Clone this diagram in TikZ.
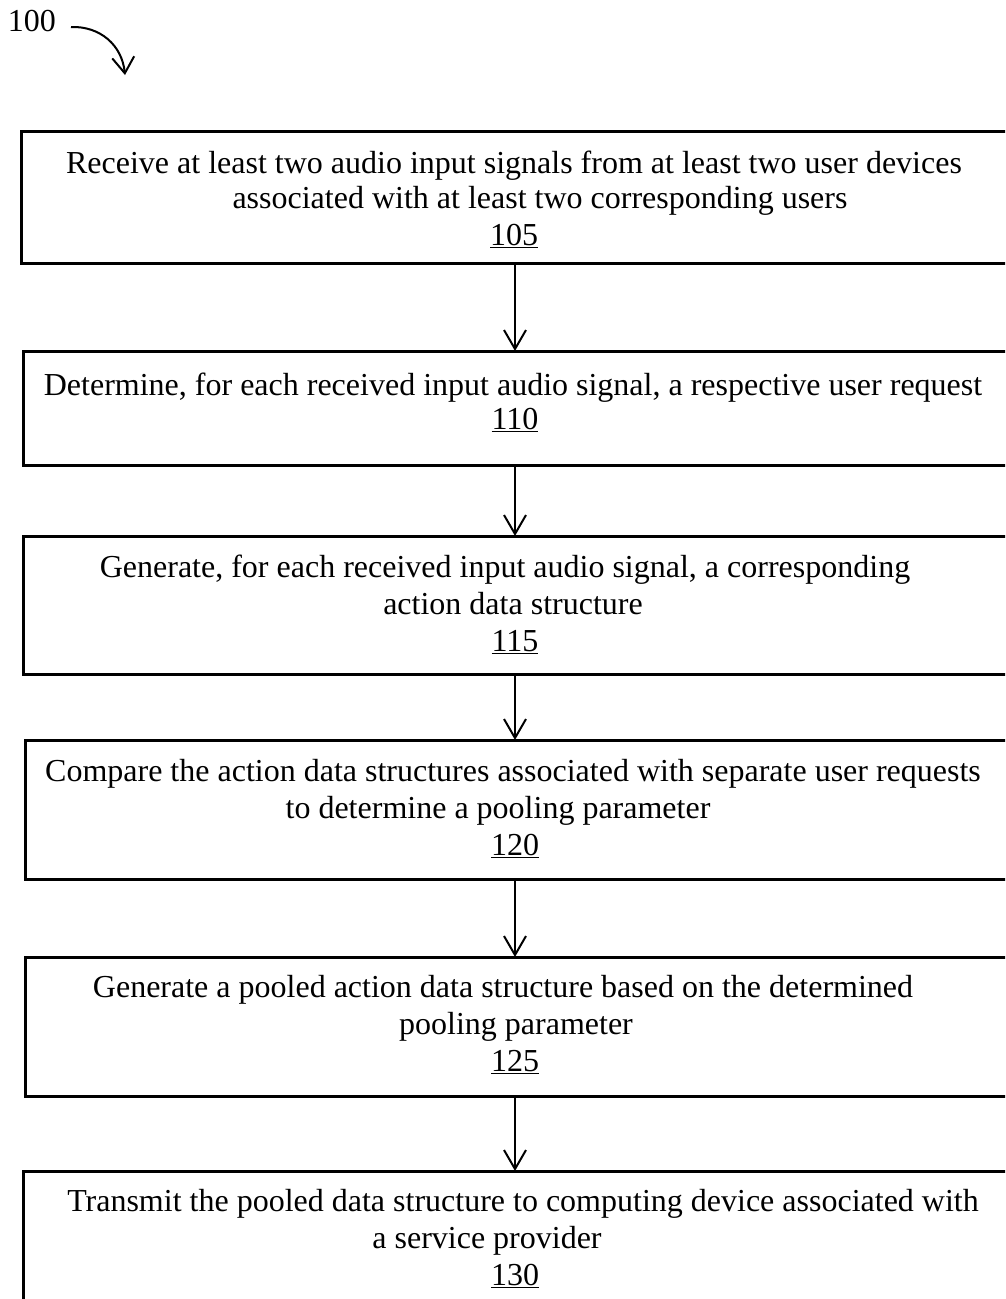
\documentclass[tikz,border=0pt]{standalone}
\usepackage{fontspec}
\setmainfont{Liberation Serif}
\usetikzlibrary{arrows.meta}
\begin{document}
\begin{tikzpicture}[x=1pt,y=-1pt,
  stepbox/.style={draw, line width=3pt},
  txt/.style={anchor=base, inner sep=0pt, font=\fontsize{32}{37}\selectfont},
  flow/.style={line width=2pt, -{Straight Barb[length=19pt,width=22pt,line width=2pt]}}]
\useasboundingbox (0,0) rectangle (1005,1299);
\clip (0,0) rectangle (1005,1299);

% figure reference label
\node[txt] (fig) at (32,31) {100};
\coordinate (figstart) at (71,27);
\coordinate (figend) at (125,75);
\draw[line width=2pt, -{Straight Barb[length=16pt,width=22pt,line width=2pt]}]
  (figstart) .. controls (100,26) and (122,45) .. (figend);

% process steps
\draw[stepbox] (21,131) rectangle (1015,263);
\node[txt] (t105a) at (514,173) {Receive at least two audio input signals from at least two user devices};
\node[txt] (t105b) at (540,208) {associated with at least two corresponding users};
\node[txt] (t105c) at (514,245) {\underline{105}};
\coordinate (b105) at (515,263);

\draw[stepbox] (23,351) rectangle (1015,465);
\node[txt] (t110a) at (513,395) {Determine, for each received input audio signal, a respective user request};
\node[txt] (t110b) at (515,429) {\underline{110}};
\coordinate (top110) at (515,351);
\coordinate (b110) at (515,465);

\draw[stepbox] (23,536) rectangle (1015,674);
\node[txt] (t115a) at (505,577) {Generate, for each received input audio signal, a corresponding};
\node[txt] (t115b) at (513,614) {action data structure};
\node[txt] (t115c) at (515,651) {\underline{115}};
\coordinate (top115) at (515,536);
\coordinate (b115) at (515,674);

\draw[stepbox] (25,740) rectangle (1015,879);
\node[txt] (t120a) at (513,781) {Compare the action data structures associated with separate user requests};
\node[txt] (t120b) at (498,818) {to determine a pooling parameter};
\node[txt] (t120c) at (515,855) {\underline{120}};
\coordinate (top120) at (515,740);
\coordinate (b120) at (515,879);

\draw[stepbox] (25,957) rectangle (1015,1096);
\node[txt] (t125a) at (503,997) {Generate a pooled action data structure based on the determined};
\node[txt] (t125b) at (516,1034) {pooling parameter};
\node[txt] (t125c) at (515,1071) {\underline{125}};
\coordinate (top125) at (515,957);
\coordinate (b125) at (515,1096);

\draw[stepbox] (23,1171) rectangle (1015,1310);
\node[txt] (t130a) at (523,1211) {Transmit the pooled data structure to computing device associated with};
\node[txt] (t130b) at (487,1248) {a service provider};
\node[txt] (t130c) at (515,1285) {\underline{130}};
\coordinate (top130) at (515,1171);

% connectors
\draw[flow] (b105) -- (top110);
\draw[flow] (b110) -- (top115);
\draw[flow] (b115) -- (top120);
\draw[flow] (b120) -- (top125);
\draw[flow] (b125) -- (top130);
\end{tikzpicture}
\end{document}
